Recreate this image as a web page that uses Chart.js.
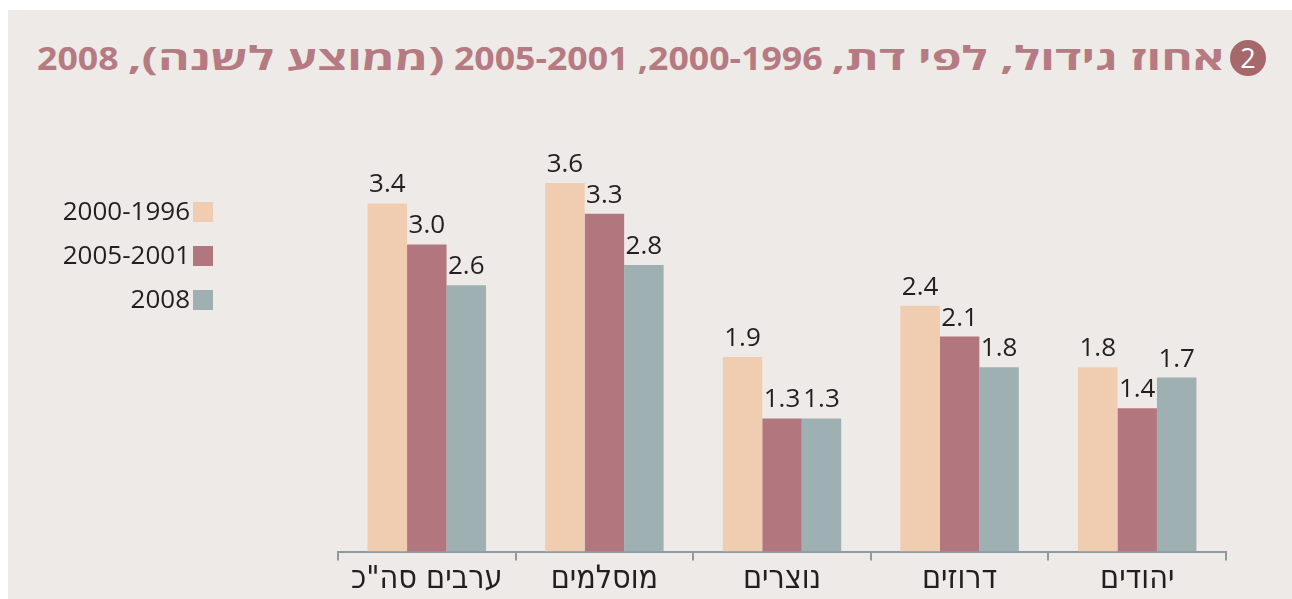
<!DOCTYPE html>
<html lang="he">
<head>
<meta charset="utf-8">
<title>אחוז גידול, לפי דת</title>
<script src="https://cdn.jsdelivr.net/npm/chart.js@4.4.0/dist/chart.umd.min.js"></script>
<style>
  html, body { margin: 0; padding: 0; background: #fff; }
  body { width: 1292px; height: 599px; position: relative; overflow: hidden; }
  .panel { position: absolute; left: 8px; top: 10px; right: 0; bottom: 0; background: #eeeae7; }
  .title {
    position: absolute; right: 67px; top: 40px;
    font: bold 33px "Open Sans", sans-serif; line-height: 36px;
    color: #b67a82; white-space: nowrap;
  }
  .title .heb { display: inline-block; transform-origin: center; }
  .badge {
    position: absolute; left: 1230px; top: 40px; width: 36px; height: 36px; border-radius: 50%;
    background: #a5696c; color: #fff; text-align: center;
    font: 27px "Open Sans", sans-serif; line-height: 36px;
  }
  canvas { position: absolute; left: 0; top: 0; }
</style>
</head>
<body>
<div class="panel"></div>
<div class="badge">2</div>
<div class="title" id="title" dir="rtl"><span class="heb">אחוז גידול, לפי דת,</span> 2000-1996, 2005-2001 <span class="heb">(ממוצע לשנה),</span> 2008</div>
<canvas id="chart" width="1292" height="603"></canvas>
<script>
// categories, left to right as printed
const categories = ['ערבים סה"כ', 'מוסלמים', 'נוצרים', 'דרוזים', 'יהודים']
const seriesNames = ['2000-1996', '2005-2001', '2008']
const period1 = [3.4, 3.6, 1.9, 2.4, 1.8]
const period2 = [3.0, 3.3, 1.3, 2.1, 1.4]
const year2008 = [2.6, 2.8, 1.3, 1.8, 1.7]
const colors = ['#f0cdb0', '#b2777e', '#9eb0b2']

const ink = '#231f20'
const axisGray = '#8e9aa2'

// the only Hebrew face here is narrow, so widen the Hebrew runs of the title
// and then fit the whole line to the printed width
const hebScale = 1.35
const titleWidth = 1188
document.querySelectorAll('#title .heb').forEach(el => {
  const m = (hebScale - 1) * el.offsetWidth / 2
  el.style.transform = 'scaleX(' + hebScale + ')'
  el.style.margin = '0 ' + m + 'px'
})
const titleEl = document.getElementById('title')
titleEl.style.transformOrigin = 'right center'
titleEl.style.transform = 'scaleX(' + (titleWidth / titleEl.offsetWidth) + ')'

// value labels on top of each bar
const valueLabels = {
  id: 'valueLabels',
  afterDatasetsDraw (chart) {
    const ctx = chart.ctx
    ctx.save()
    ctx.font = '26px "Open Sans", sans-serif'
    ctx.fillStyle = ink
    ctx.textAlign = 'center'
    ctx.textBaseline = 'alphabetic'
    chart.data.datasets.forEach((ds, i) => {
      chart.getDatasetMeta(i).data.forEach((bar, j) => {
        ctx.fillText(ds.data[j].toFixed(1), bar.x, bar.y - 11)
      })
    })
    ctx.restore()
  }
}

// legend on the left: text right-aligned, swatch right of it
const sideLegend = {
  id: 'sideLegend',
  afterDraw (chart) {
    const ctx = chart.ctx
    ctx.save()
    ctx.font = '26px "Open Sans", sans-serif'
    ctx.textAlign = 'right'
    ctx.textBaseline = 'middle'
    chart.data.datasets.forEach((ds, i) => {
      const y = 212 + i * 44
      ctx.fillStyle = ds.backgroundColor
      ctx.fillRect(193, y - 10, 20, 20)
      ctx.fillStyle = ink
      ctx.fillText(ds.label, 190, y + 1)
    })
    ctx.restore()
  }
}

new Chart(document.getElementById('chart'), {
  type: 'bar',
  data: {
    labels: categories,
    datasets: [
      { label: seriesNames[0], data: period1, backgroundColor: colors[0] },
      { label: seriesNames[1], data: period2, backgroundColor: colors[1] },
      { label: seriesNames[2], data: year2008, backgroundColor: colors[2] }
    ]
  },
  options: {
    responsive: false,
    animation: false,
    layout: { padding: { left: 338, right: 66, top: 142, bottom: 4 } },
    datasets: { bar: { barPercentage: 1, categoryPercentage: 0.667 } },
    scales: {
      x: {
        grid: { offset: true, drawOnChartArea: false, color: axisGray, lineWidth: 2, tickLength: 9 },
        border: { color: axisGray, width: 2 },
        ticks: { color: ink, padding: 0, font: { family: '"Liberation Sans Narrow", "DejaVu Sans Condensed", sans-serif', size: 32 } }
      },
      y: { display: false, min: 0, max: 4 }
    },
    plugins: { legend: { display: false }, tooltip: { enabled: false } }
  },
  plugins: [valueLabels, sideLegend]
})
</script>
</body>
</html>
